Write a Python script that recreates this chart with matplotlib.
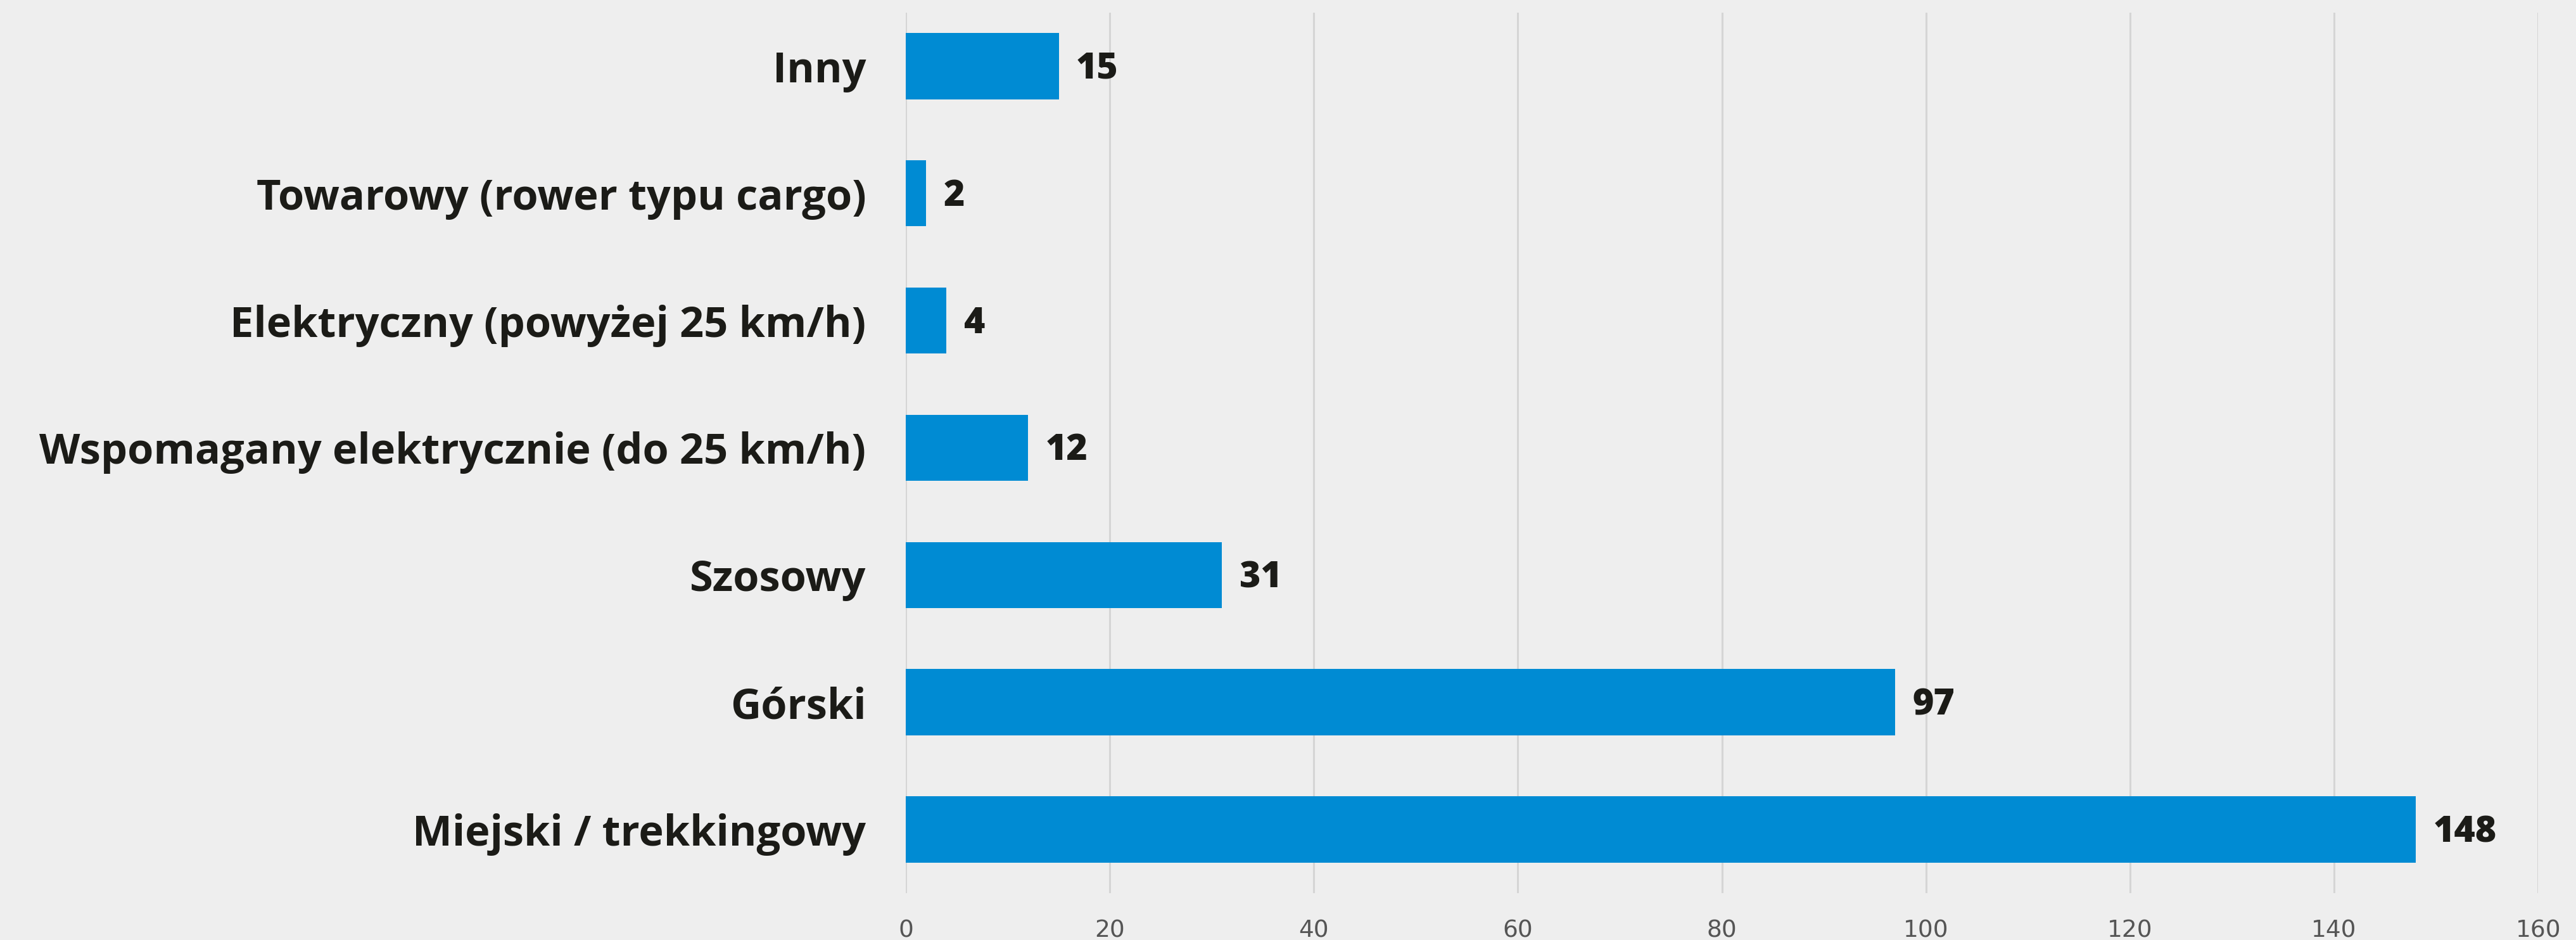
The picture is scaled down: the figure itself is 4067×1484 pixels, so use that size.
import matplotlib.pyplot as plt

# data
categories = ['Miejski / trekkingowy', 'Górski', 'Szosowy',
              'Wspomagany elektrycznie (do 25 km/h)',
              'Elektryczny (powyżej 25 km/h)',
              'Towarowy (rower typu cargo)', 'Inny']
counts = [148, 97, 31, 12, 4, 2, 15]
xticks = [0, 20, 40, 60, 80, 100, 120, 140, 160]

bg = '#eeeeee'
bar_color = '#008bd3'
text_color = '#1b1b17'

fig = plt.figure(figsize=(40.67, 14.84), dpi=100, facecolor=bg)
ax = fig.add_axes([0.3516, 0.0499, 0.9853 - 0.3516, 0.9865 - 0.0499])
ax.set_facecolor(bg)

pos = list(range(len(categories)))
ax.barh(pos, counts, height=0.52, color=bar_color, zorder=3)

# value labels next to the bars
for y, v in zip(pos, counts):
    ax.text(v + 1.7, y - 0.025, str(v), va='center', ha='left', fontsize=41,
            fontweight='heavy', family='Open Sans', color=text_color)

ax.set_xlim(0, 160)
ax.set_ylim(-0.5, 6.42)
ax.set_xticks(xticks)
ax.set_xticklabels([str(t) for t in xticks], fontsize=27, color='#555555',
                   family=['Liberation Sans Narrow', 'DejaVu Sans'])
ax.set_yticks(pos)
ax.set_yticklabels(categories, fontsize=48, fontweight='bold',
                   family='Open Sans', color=text_color)

ax.tick_params(axis='x', length=0, pad=30)
ax.tick_params(axis='y', length=0, pad=45)
ax.grid(axis='x', color='#d5d5d5', linewidth=2.2, zorder=0)
ax.grid(axis='y', visible=False)
for s in ax.spines.values():
    s.set_visible(False)

plt.savefig('out.png', dpi=100, facecolor=bg)
